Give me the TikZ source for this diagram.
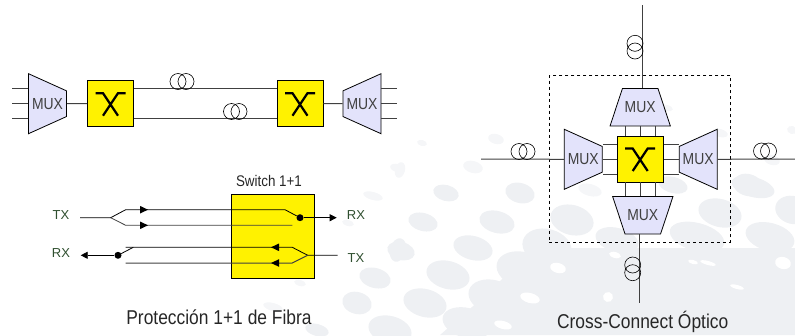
\documentclass[tikz,border=0pt]{standalone}
\usepackage{fontspec}
\setmainfont{Liberation Sans}
\newfontfamily\narrowfont[FakeStretch=0.87]{Liberation Sans}
\usetikzlibrary{shapes.geometric,calc,arrows.meta}
\definecolor{muxfill}{HTML}{E3E3FB}
\definecolor{txgreen}{HTML}{2F4F2F}
\definecolor{speck}{HTML}{EEF0F3}
\definecolor{speckfaint}{HTML}{F5F6F8}
\tikzset{
  mux/.style={trapezium,draw,fill=muxfill,line width=0.8pt,inner sep=0pt,trapezium stretches body=true,
    font=\narrowfont\fontsize{16}{16}\selectfont,text=black!75},
  muxh/.style={mux,minimum width=60pt,minimum height=38pt,trapezium angle=61},
  muxv/.style={mux,minimum width=60.3pt,minimum height=37.5pt,trapezium angle=42},
  switchbox/.style={draw,fill=yellow,line width=0.8pt,minimum width=46pt,minimum height=46pt,inner sep=0pt},
  fibre/.style={line width=1pt,black!75},
  coil/.style={circle,draw,line width=0.6pt,minimum size=16pt,inner sep=0pt},
  tip/.style={-{Triangle[length=7pt,width=7pt]}},
  dot/.style={circle,fill=black,minimum size=7pt,inner sep=0pt},
  tag/.style={font=\fontsize{13}{13}\selectfont,text=txgreen},
  caption/.style={font=\narrowfont\fontsize{20}{20}\selectfont,text=black!85},
  blob/.style={fill=speck,rotate=-15},
  faintblob/.style={fill=speckfaint,rotate=-15},
  fleck/.style={fill=white,rotate=-15}
}
\newcommand{\xmark}[1]{\draw[line width=2.2pt] ($(#1)+(-15,-10.5)$) -- ++(7.5,0) -- ++(15,22.5)
  ($(#1)+(15,-10.5)$) -- ++(-7.5,0) -- ++(-15,22.5);}
\begin{document}
\begin{tikzpicture}[x=1pt,y=-1pt]
\useasboundingbox (0,0) rectangle (795,335);
% background
\fill[speck] (440,335) -- (480,300) -- (520,262) -- (570,248) -- (795,248) -- (795,335) -- cycle;
\foreach \a/\b/\c/\d in {422/143/5/3,496/139/8/5,397/168/7/4,473/167/10/6,373/196/10/4,348/223/6/3,400/170/5/8,
  300/283/6/3,273/307/10/4,772/160/8/5,720/133/8/4,792/130/5/4,667/108/6/3,590/190/12/6}
  \path[shift={(\a,\b)},faintblob] (0,0) ellipse ({\c pt} and {\d pt});
\foreach \a/\b/\c/\d in {446/193/13/8,520/193/15/10,423/222/15/9,
  497/222/18/11,401/251/14/9,473/248/20/12,448/275/22/14,380/280/10/8,425/303/22/14,523/270/27/18,547/247/25/18,
  493/297/25/17,467/323/25/15,390/330/22/14,375/278/16/10,357/303/15/11,398/250/8/12,
  317/330/12/6,572/220/22/15,617/240/22/12,720/213/22/14,793/210/18/14,753/187/22/10,770/237/25/14,697/237/28/14,
  748/185/15/11,673/185/15/8}
  \path[shift={(\a,\b)},blob] (0,0) ellipse ({\c pt} and {\d pt});
\foreach \a/\b/\c/\d in {558/268/8/5,530/298/10/5,708/263/8/2,783/263/8/6,608/297/5/5,503/325/9/4,737/287/7/2,
  615/255/6/3,693/262/5/2}
  \path[shift={(\a,\b)},fleck] (0,0) ellipse ({\c pt} and {\d pt});
% top left
\node[muxh,shape border rotate=270] (mux1) at (47.5,103.7) {MUX};
\node[switchbox] (sw1) at (110.5,103.7) {};
\node[switchbox] (sw2) at (300,103.7) {};
\node[muxh,shape border rotate=90] (mux2) at (362,103.7) {MUX};
\xmark{sw1}
\xmark{sw2}
\draw[fibre] (mux1.east) -- (sw1.west);
\draw[fibre] (sw2.east) -- (mux2.west);
\draw[fibre] ([yshift=-15pt]sw1.east) -- ([yshift=-15pt]sw2.west);
\draw[fibre] ([yshift=15pt]sw1.east) -- ([yshift=15pt]sw2.west);
\foreach \y in {-15,0,15} {
  \draw[fibre] ([yshift=\y pt]mux1.west) -- ++(-16,0);
  \draw[fibre] ([yshift=\y pt]mux2.east) -- ++(16,0);
}
\node[coil] (c1) at (178,81.5) {};
\node[coil] (c2) at (186,81.5) {};
\node[coil] (c3) at (231.5,111.5) {};
\node[coil] (c4) at (239,111.5) {};
% switch 1+1
\node[draw,fill=yellow,line width=0.8pt,minimum width=83.5pt,minimum height=84pt] (sw3) at (273,236) {};
\node[font=\narrowfont\fontsize{15.4}{15.4}\selectfont,text=black!85] (swlabel) at (269,181) {Switch 1+1};
\node[tag] (tx1) at (61,215) {TX};
\node[tag] (rx1) at (356,215) {RX};
\node[tag] (rx2) at (61,253) {RX};
\node[tag] (tx2) at (356,258) {TX};
\node[dot] (d1) at (300,217.7) {};
\node[dot] (d2) at (118,255.3) {};
\coordinate (f1) at (110.7,217.7);
\coordinate (f2) at (307.7,255.3);
\draw[line width=0.8pt] (80,217.7) -- (f1) -- (125.7,209.7) -- (285,209.7) -- (d1);
\draw[line width=0.8pt,black!75] (f1) -- (125.7,225.3) -- (292.3,225.3);
\draw[tip,line width=0.8pt] (d1) -- (336.7,217.7);
\draw[tip,line width=0.8pt] (d2) -- (80.7,255.3);
\draw[line width=0.8pt] (d2) -- (133.3,247.3);
\draw[line width=0.8pt] (125.7,247.3) -- (292.3,247.3) -- (f2) -- (337.7,255.3);
\draw[line width=1pt,black!75] (125.7,263) -- (292.3,263) -- (f2);
\foreach \x/\y in {148/209.7,148/225.3} \fill (\x,\y) -- ++(-8,-3.8) -- ++(0,7.6) -- cycle;
\foreach \x/\y in {271/247.3,271/263} \fill (\x,\y) -- ++(8,-3.8) -- ++(0,7.6) -- cycle;
\node[caption] (cap1) at (219,317) {Protección 1+1 de Fibra};
% cross connect
\node[draw,dashed,line width=0.7pt,minimum width=181.4pt,minimum height=166.3pt,inner sep=0pt] (oxcbox) at (640,158.8) {};
\node[switchbox] (sw4) at (640.2,159) {};
\xmark{sw4}
\node[muxv] (muxn) at (640.2,107.2) {\raisebox{-4pt}{MUX}};
\node[muxv,shape border rotate=180] (muxs) at (642.8,215.3) {MUX};
\node[muxh,shape border rotate=270] (muxw) at (583.3,159.3) {MUX};
\node[muxh,shape border rotate=90] (muxe) at (698.2,159.3) {MUX};
\foreach \s in {-15,0,15} {
  \draw[fibre] ([yshift=\s pt]sw4.west) -- ([yshift=\s pt]sw4.west -| muxw.east);
  \draw[fibre] ([yshift=\s pt]sw4.east) -- ([yshift=\s pt]sw4.east -| muxe.west);
  \draw[fibre] ([xshift=\s pt]sw4.north) -- ([xshift=\s pt]sw4.north |- muxn.south);
  \draw[fibre] ([xshift=\s pt]sw4.south) -- ([xshift=\s pt]sw4.south |- muxs.north);
}
\coordinate (n) at (642.7,5);
\coordinate (s) at (639.7,302.7);
\coordinate (w) at (481,159);
\coordinate (e) at (795,159);
\draw[fibre] (n) -- (n |- muxn.north);
\draw[fibre] (s) -- (s |- muxs.south);
\draw[fibre] (w) -- (muxw.west);
\draw[fibre] (muxe.east) -- (e);
\node[coil] (c5) at (635,43.3) {};
\node[coil] (c6) at (635,51) {};
\node[coil] (c7) at (632.7,265) {};
\node[coil] (c8) at (632.7,272.7) {};
\node[coil] (c9) at (519,151.5) {};
\node[coil] (c10) at (527,151.5) {};
\node[coil] (c11) at (761.5,151) {};
\node[coil] (c12) at (768.5,151) {};
\node[caption] (cap2) at (642.7,321.7) {Cross-Connect Óptico};
\end{tikzpicture}
\end{document}
